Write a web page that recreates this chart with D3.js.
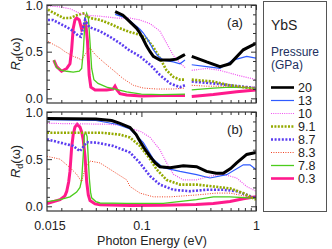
<!DOCTYPE html>
<html>
<head>
<meta charset="utf-8">
<script src="https://cdn.jsdelivr.net/npm/d3@7"></script>
<style>
body { margin: 0; background: #fff; }
svg { display: block; font-family: "Liberation Sans", Arial, sans-serif; }
</style>
</head>
<body>
<script>
// YbS optical reflectivity under pressure

var pressures = ["0.3", "7.8", "8.3", "8.7", "9.1", "10", "13", "20"];
var legendOrder = ["20", "13", "10", "9.1", "8.7", "8.3", "7.8", "0.3"];
var xTickLabels = [0.015, 0.1, 1];
var xMinor = [0.02, 0.03, 0.04, 0.05, 0.06, 0.07, 0.08, 0.09, 0.2, 0.3, 0.4, 0.5, 0.6, 0.7, 0.8, 0.9];
var yMajor = [0, 0.5, 1];
var yMinor = [0.1, 0.2, 0.3, 0.4, 0.6, 0.7, 0.8, 0.9];

// panel (a): [photon energy eV, Rd]; null = gap in the data
var a03 = [[0.0172,0.41],[0.0182,0.34],[0.0201,0.29],[0.0223,0.32],[0.0238,0.37],[0.0246,0.52],[0.0254,0.75],[0.0263,0.84],[0.0272,0.86],[0.0287,0.84],[0.0301,0.74],[0.0316,0.78],[0.0327,0.80],[0.0338,0.62],[0.035,0.25],[0.0362,0.12],[0.0394,0.09],[0.0498,0.09],[0.0565,0.10],[0.0588,0.13],[0.0612,0.09],[0.065,0.05],[0.0744,0.035],[0.1,0.025],[0.15,0.03],[0.24,0.03], null, [0.275,0.02],[0.424,0.04],[0.678,0.07],[1.0,0.09]];
var a78 = [[0.0172,0.41],[0.0182,0.33],[0.0201,0.30],[0.0223,0.29],[0.0254,0.28],[0.0287,0.29],[0.0301,0.32],[0.0311,0.50],[0.0322,0.84],[0.0333,0.91],[0.0345,0.85],[0.0356,0.60],[0.0368,0.32],[0.0385,0.20],[0.0418,0.16],[0.0498,0.12],[0.0744,0.07],[0.1,0.045],[0.15,0.04],[0.24,0.045], null, [0.275,0.09],[0.424,0.11],[0.593,0.12],[1.0,0.11]];
var a83 = [[0.0153,0.61],[0.0175,0.57],[0.0195,0.54],[0.0215,0.50],[0.0254,0.45],[0.0281,0.43],[0.0301,0.41],[0.0322,0.47],[0.0356,0.54],[0.0394,0.47],[0.0465,0.39],[0.0569,0.30],[0.0695,0.21],[0.085,0.14],[0.104,0.11],[0.136,0.10],[0.19,0.10],[0.24,0.11], null, [0.275,0.14],[0.371,0.13],[0.593,0.13],[1.0,0.12]];
var a87 = [[0.0153,0.84],[0.0169,0.84],[0.0195,0.80],[0.0225,0.76],[0.0254,0.72],[0.0281,0.67],[0.0296,0.66],[0.0311,0.76],[0.0322,0.84],[0.0344,0.78],[0.0356,0.76],[0.0435,0.72],[0.053,0.66],[0.065,0.59],[0.0795,0.51],[0.097,0.45],[0.119,0.36],[0.145,0.25],[0.178,0.16],[0.217,0.12],[0.24,0.14], null, [0.275,0.18],[0.424,0.16],[0.593,0.14],[1.0,0.11]];
var a91 = [[0.0153,0.95],[0.0169,0.92],[0.0195,0.88],[0.0208,0.86],[0.0238,0.86],[0.0272,0.89],[0.0311,0.91],[0.0356,0.86],[0.0435,0.84],[0.053,0.80],[0.065,0.75],[0.0795,0.71],[0.097,0.68],[0.111,0.64],[0.127,0.55],[0.145,0.43],[0.166,0.30],[0.19,0.23],[0.217,0.20],[0.24,0.20], null, [0.275,0.20],[0.424,0.18],[0.593,0.14],[1.0,0.10]];
var a10 = [[0.0153,0.99],[0.0195,0.98],[0.0238,0.96],[0.0291,0.91],[0.0333,0.89],[0.0435,0.88],[0.061,0.86],[0.0795,0.86],[0.097,0.84],[0.119,0.80],[0.145,0.72],[0.166,0.59],[0.19,0.46],[0.217,0.38],[0.24,0.33], null, [0.275,0.30],[0.371,0.32],[0.485,0.30],[0.678,0.25],[1.0,0.20]];
var a13 = [[0.059,0.90],[0.0744,0.86],[0.085,0.80],[0.097,0.74],[0.104,0.70],[0.115,0.62],[0.127,0.52],[0.14,0.45],[0.155,0.41],[0.19,0.39],[0.217,0.37],[0.24,0.41], null, [0.275,0.36],[0.371,0.34],[0.485,0.32],[0.63,0.41],[0.83,0.45],[1.0,0.43]];
var a20 = [[0.059,0.93],[0.069,0.89],[0.0795,0.82],[0.091,0.75],[0.097,0.70],[0.104,0.63],[0.111,0.56],[0.119,0.50],[0.127,0.45],[0.145,0.41],[0.178,0.41],[0.203,0.42],[0.232,0.46],[0.24,0.47], null, [0.275,0.45],[0.371,0.39],[0.485,0.34],[0.593,0.37],[0.775,0.52],[1.0,0.59]];

// panel (b)
var b03 = [[0.015,0.03],[0.0195,0.07],[0.0215,0.11],[0.0223,0.16],[0.0232,0.26],[0.0238,0.37],[0.0246,0.62],[0.0254,0.76],[0.0263,0.84],[0.0275,0.87],[0.0291,0.84],[0.0301,0.79],[0.0311,0.70],[0.0322,0.53],[0.0333,0.26],[0.0344,0.12],[0.0356,0.06],[0.0394,0.025],[0.0435,0.015],[0.08,0.008],[0.15,0.01],[0.3,0.02],[0.424,0.03],[0.593,0.05],[0.775,0.08],[1.0,0.10]];
var b78 = [[0.015,0.05],[0.0195,0.07],[0.0238,0.10],[0.0272,0.15],[0.0291,0.20],[0.0301,0.28],[0.0311,0.55],[0.0318,0.76],[0.0327,0.78],[0.0336,0.74],[0.0344,0.50],[0.0351,0.30],[0.036,0.15],[0.0368,0.09],[0.04,0.05],[0.0435,0.035],[0.0744,0.03],[0.155,0.03],[0.303,0.07],[0.424,0.10],[0.593,0.10],[1.0,0.085]];
var b83 = [[0.015,0.53],[0.0195,0.50],[0.0238,0.41],[0.0272,0.34],[0.0301,0.26],[0.0322,0.40],[0.0356,0.48],[0.0435,0.46],[0.0569,0.37],[0.0744,0.28],[0.0795,0.21],[0.097,0.14],[0.127,0.10],[0.178,0.10],[0.303,0.12],[0.453,0.14],[0.593,0.14],[1.0,0.085]];
var b87 = [[0.015,0.71],[0.0195,0.675],[0.0254,0.64],[0.0291,0.585],[0.0311,0.63],[0.0333,0.68],[0.0407,0.675],[0.0569,0.64],[0.0744,0.585],[0.0795,0.57],[0.097,0.46],[0.119,0.32],[0.145,0.23],[0.19,0.175],[0.265,0.16],[0.37,0.175],[0.518,0.175],[0.678,0.16],[1.0,0.085]];
var b91 = [[0.015,0.78],[0.045,0.78],[0.065,0.76],[0.0795,0.73],[0.097,0.64],[0.119,0.50],[0.136,0.39],[0.166,0.28],[0.217,0.23],[0.303,0.23],[0.424,0.21],[0.593,0.19],[0.775,0.14],[1.0,0.07]];
var b10 = [[0.015,0.88],[0.05,0.87],[0.07,0.86],[0.0795,0.83],[0.1,0.79],[0.119,0.73],[0.145,0.60],[0.166,0.46],[0.19,0.34],[0.232,0.28],[0.303,0.28],[0.397,0.32],[0.518,0.34],[0.678,0.30],[0.83,0.21],[1.0,0.16]];
var b13 = [[0.015,0.92],[0.04,0.91],[0.0609,0.87],[0.0795,0.82],[0.104,0.675],[0.127,0.50],[0.155,0.41],[0.217,0.37],[0.303,0.335],[0.397,0.30],[0.555,0.335],[0.775,0.44],[0.886,0.44],[1.0,0.39]];
var b20 = [[0.015,0.93],[0.04,0.925],[0.055,0.91],[0.065,0.88],[0.0795,0.835],[0.09,0.76],[0.097,0.69],[0.108,0.60],[0.119,0.53],[0.132,0.46],[0.145,0.42],[0.178,0.41],[0.232,0.43],[0.303,0.42],[0.37,0.37],[0.45,0.35],[0.518,0.35],[0.6,0.40],[0.678,0.46],[0.83,0.55],[1.0,0.57]];

var panelA = {"0.3": a03, "7.8": a78, "8.3": a83, "8.7": a87, "9.1": a91, "10": a10, "13": a13, "20": a20};
var panelB = {"0.3": b03, "7.8": b78, "8.3": b83, "8.7": b87, "9.1": b91, "10": b10, "13": b13, "20": b20};

var styles = {
  "20":  {color: "#000000", width: 3,   dash: null},
  "13":  {color: "#2f5bff", width: 1.2, dash: null},
  "10":  {color: "#f050f0", width: 1.2, dash: "1,1.2"},
  "9.1": {color: "#94aa00", width: 2.6, dash: "2,1.4"},
  "8.7": {color: "#5a3cf0", width: 2.6, dash: "2,1.6"},
  "8.3": {color: "#f04020", width: 1,   dash: "1,1.4"},
  "7.8": {color: "#4ccc1c", width: 1.3, dash: null},
  "0.3": {color: "#ff1a8c", width: 3,   dash: null}
};

var left = 47, right = 256;
var width = 332, height = 249;

var x = d3.scaleLog().domain([0.015, 1]).range([left, right]);

var svg = d3.select("body").append("svg")
    .attr("width", width)
    .attr("height", height);

function drawPanel(top, bottom, data, tag, showX, id) {
  var y = d3.scaleLinear().domain([-0.05, 1]).range([bottom, top]);
  var g = svg.append("g");

  g.append("clipPath").attr("id", id)
    .append("rect").attr("x", left).attr("y", top)
    .attr("width", right - left).attr("height", bottom - top);

  var line = d3.line()
      .defined(function(d) { return d !== null; })
      .x(function(d) { return x(d[0]); })
      .y(function(d) { return y(d[1]); });

  var curves = g.append("g").attr("clip-path", "url(#" + id + ")");
  pressures.forEach(function(p) {
    var s = styles[p];
    curves.append("path")
      .datum(data[p])
      .attr("d", line)
      .attr("fill", "none")
      .attr("stroke", s.color)
      .attr("stroke-width", s.width)
      .attr("stroke-dasharray", s.dash);
  });

  // axes, ticks pointing inward on all four sides
  var axes = [
    {ax: d3.axisBottom(x), t: "translate(0," + bottom + ")", horiz: true, labels: showX},
    {ax: d3.axisTop(x), t: "translate(0," + top + ")", horiz: true, labels: false},
    {ax: d3.axisLeft(y), t: "translate(" + left + ",0)", horiz: false, labels: true},
    {ax: d3.axisRight(y), t: "translate(" + right + ",0)", horiz: false, labels: false}
  ];
  axes.forEach(function(a) {
    var major = a.horiz ? [0.1, 1] : yMajor;
    var minor = a.horiz ? xMinor : yMinor;
    g.append("g").attr("transform", a.t)
      .call(a.ax.scale(a.horiz ? x : y).tickValues(minor).tickSize(-3).tickSizeOuter(0).tickFormat(""))
      .call(function(s) { s.select(".domain").remove(); });
    var ga = g.append("g").attr("transform", a.t)
      .call(a.ax.tickValues(major).tickSize(-5).tickSizeOuter(0)
        .tickPadding(a.horiz ? 10 : 4)
        .tickFormat(a.labels ? (a.horiz ? function(d) { return d; } : d3.format(".1f")) : ""));
    ga.select(".domain").remove();
    ga.selectAll("line").attr("stroke", "#333");
    ga.selectAll("text").attr("font-size", 12.5).attr("fill", "#222")
      .attr("font-family", "Liberation Sans, Arial, sans-serif");
  });
  g.selectAll(".tick line").attr("stroke", "#333");

  if (showX) {
    // leftmost label sits on the frame edge
    g.append("text")
      .attr("x", x(0.015) + 3).attr("y", bottom + 19)
      .attr("text-anchor", "middle")
      .attr("font-size", 12.5).attr("fill", "#222")
      .text(xTickLabels[0]);
  }

  g.append("rect")
    .attr("x", left).attr("y", top)
    .attr("width", right - left).attr("height", bottom - top)
    .attr("fill", "none").attr("stroke", "#333").attr("stroke-width", 1.2);

  g.append("text")
    .attr("x", 235).attr("y", top + 22)
    .attr("text-anchor", "middle")
    .attr("font-size", 13).attr("fill", "#222")
    .text(tag);

  var yl = g.append("text")
    .attr("transform", "translate(20," + ((top + bottom) / 2) + ") rotate(-90)")
    .attr("text-anchor", "middle")
    .attr("font-size", 13).attr("fill", "#222");
  yl.append("tspan").attr("font-style", "italic").text("R");
  yl.append("tspan").attr("font-size", 9).attr("dy", 3).text("d");
  yl.append("tspan").attr("dy", -3).text("(ω)");
}

drawPanel(5, 103, panelA, "(a)", false, "clipA");
drawPanel(112, 211, panelB, "(b)", true, "clipB");

svg.append("text")
    .attr("x", 152).attr("y", 245)
    .attr("text-anchor", "middle")
    .attr("font-size", 12.5).attr("fill", "#222")
    .text("Photon Energy (eV)");

// legend
var lg = svg.append("g");
lg.append("rect")
  .attr("x", 263.5).attr("y", 1.5).attr("width", 63).attr("height", 210)
  .attr("fill", "#fff").attr("stroke", "#555").attr("stroke-width", 1);
lg.append("text").attr("x", 271).attr("y", 30)
  .attr("font-size", 14).attr("fill", "#222").text("YbS");
lg.append("text").attr("x", 271).attr("y", 56)
  .attr("font-size", 12).attr("fill", "#223060").text("Pressure");
lg.append("text").attr("x", 271).attr("y", 69)
  .attr("font-size", 12).attr("fill", "#223060").text("(GPa)");

legendOrder.forEach(function(p, i) {
  var s = styles[p];
  var ly = 87.5 + i * 13;
  lg.append("line")
    .attr("x1", 271).attr("x2", 294).attr("y1", ly).attr("y2", ly)
    .attr("stroke", s.color).attr("stroke-width", Math.min(s.width, 2.6))
    .attr("stroke-dasharray", s.dash);
  lg.append("text")
    .attr("x", 298).attr("y", ly + 4.5)
    .attr("font-size", 12.5).attr("fill", "#222")
    .text(p);
});
</script>
</body>
</html>
